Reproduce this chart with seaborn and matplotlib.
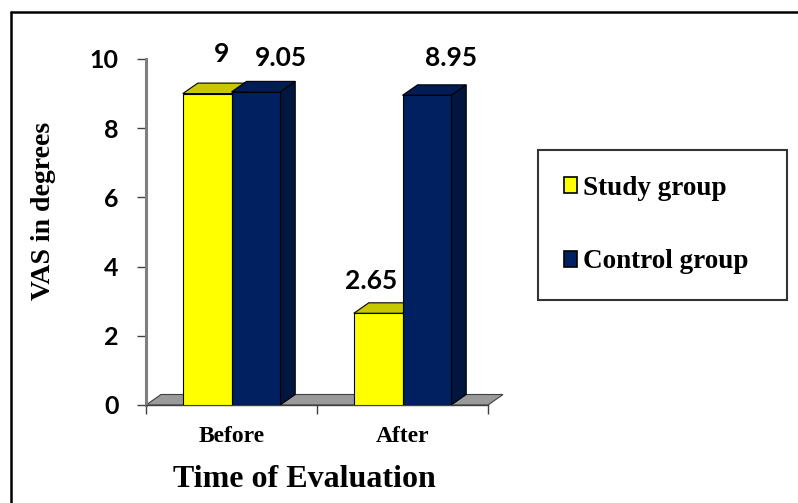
import matplotlib
matplotlib.use("Agg")
import matplotlib.pyplot as plt
from matplotlib.patches import Polygon, Patch
from matplotlib.lines import Line2D
import seaborn as sns
import pandas as pd

# ---- data ----
times = ["Before", "After"]
groups = ["Study group", "Control group"]
study_vas = [9, 2.65]
control_vas = [9.05, 8.95]
y_ticks = [0, 2, 4, 6, 8, 10]

df = pd.DataFrame({
    "time": times * 2,
    "group": [groups[0]] * 2 + [groups[1]] * 2,
    "vas": study_vas + control_vas,
})

# ---- style ----
sns.set_theme(style="white")
plt.rcParams.update({"text.color": "black", "axes.labelcolor": "black",
                     "xtick.color": "black", "ytick.color": "black"})
serif = "Liberation Serif"
sans = "Lato"
front_cols = ["#FFFF00", "#002060"]
top_cols = ["#C8C800", "#001C55"]
side_cols = ["#B5B500", "#00163F"]

W, H = 798, 503
fig = plt.figure(figsize=(W / 100, H / 100), dpi=100)
ax = fig.add_axes([146 / W, (H - 405) / H, 342 / W, 346 / H])

sns.barplot(data=df, x="time", y="vas", hue="group", order=times,
            hue_order=groups, palette=front_cols, width=0.57, gap=0,
            saturation=1, edgecolor="black", linewidth=0.8,
            legend=False, ax=ax, zorder=3)

ax.set_xlim(-0.5, 1.5)
ax.set_ylim(0, 10)

# depth of the pseudo-3D extrusion, in pixels converted to data units
px_x = 2.0 / 342
px_y = 10.0 / 346
ddx, ddy = 15 * px_x, 10.5 * px_y

# floor under the bars
floor = Polygon([(-0.5, 0), (1.5, 0), (1.5 + ddx, ddy), (-0.5 + ddx, ddy)],
                closed=True, facecolor="#9A9A9A", edgecolor="#404040",
                linewidth=0.8, zorder=1, clip_on=False)
ax.add_patch(floor)

# top and side faces of each bar, plus value labels
label_offsets = [[(14, 40), (-7, 32)], [(25, 34), (24, 37)]]
for gi, cont in enumerate(ax.containers):
    for bi, bar in enumerate(cont.patches):
        x0 = bar.get_x()
        x1 = x0 + bar.get_width()
        h = bar.get_height()
        top = Polygon([(x0, h), (x1, h), (x1 + ddx, h + ddy), (x0 + ddx, h + ddy)],
                      closed=True, facecolor=top_cols[gi], edgecolor="black",
                      linewidth=0.8, zorder=2, clip_on=False)
        side = Polygon([(x1, 0), (x1, h), (x1 + ddx, h + ddy), (x1 + ddx, ddy)],
                       closed=True, facecolor=side_cols[gi], edgecolor="black",
                       linewidth=0.8, zorder=2, clip_on=False)
        ax.add_patch(side)
        ax.add_patch(top)
        dx, dy = label_offsets[gi][bi]
        ax.annotate(f"{h:g}", xy=((x0 + x1) / 2, h), xytext=(dx, dy),
                    textcoords="offset pixels", ha="center", va="center",
                    fontsize=19, fontweight="bold", family=sans,
                    color="black", annotation_clip=False)

# axes styling
for s in ["top", "right"]:
    ax.spines[s].set_visible(False)
ax.spines["left"].set_color("#7F7F7F")
ax.spines["left"].set_linewidth(2.2)
ax.spines["bottom"].set_color("#404040")
ax.spines["bottom"].set_linewidth(1.0)

ax.set_yticks(y_ticks)
ax.set_yticklabels([str(t) for t in y_ticks], fontsize=18,
                   fontweight="bold", family=sans)
ax.tick_params(axis="y", direction="out", length=6.5, width=1.0,
               color="#404040", labelcolor="black", pad=13, left=True)

ax.set_xticks([0, 1])
ax.set_xticklabels(times, fontsize=17, fontweight="bold", family=serif)
ax.set_xticks([-0.5, 0.5, 1.5], minor=True)
ax.tick_params(axis="x", which="major", length=0, pad=15,
               labelcolor="black")
ax.tick_params(axis="x", which="minor", direction="out", length=6.5,
               width=1.0, color="#404040", bottom=True)

ax.set_xlabel("Time of Evaluation", fontsize=23, fontweight="bold",
              family=serif, va="center")
ax.xaxis.set_label_coords(0.462, -0.214)
ax.set_ylabel("VAS in degrees", fontsize=20, fontweight="bold",
              family=serif, va="center")
ax.yaxis.set_label_coords(-0.301, 0.561)
ax.grid(False)

# legend
handles = [Patch(facecolor=c, edgecolor="black", linewidth=1.2)
           for c in front_cols]
leg = ax.legend(handles, groups, loc="upper left",
                bbox_to_anchor=(538 / W, 1 - 155 / H, 249 / W, 0.01),
                bbox_transform=fig.transFigure, mode="expand",
                prop={"family": serif, "weight": "bold", "size": 19.5},
                frameon=True, fancybox=False, borderpad=0.95,
                labelspacing=1.8, handlelength=0.5, handleheight=0.5,
                handletextpad=0.2, borderaxespad=0)
leg.get_frame().set_edgecolor("black")
leg.get_frame().set_linewidth(1.5)
leg._legend_box.align = "left"

# outer frame lines (top and left)
fig.add_artist(Line2D([11 / W, 1], [1 - 12 / H, 1 - 12 / H],
                      transform=fig.transFigure, color="black", linewidth=1.8))
fig.add_artist(Line2D([11 / W, 11 / W], [0, 1 - 12 / H],
                      transform=fig.transFigure, color="black", linewidth=1.8))

fig.savefig("out.png", dpi=100)
